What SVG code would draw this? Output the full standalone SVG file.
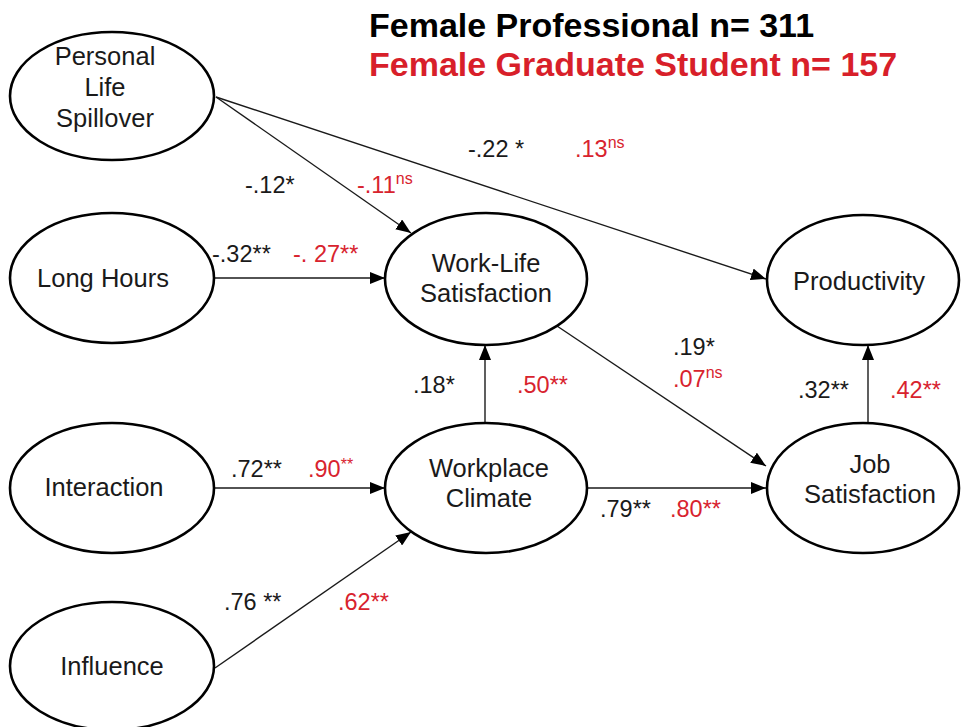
<svg xmlns="http://www.w3.org/2000/svg" width="961" height="727" viewBox="0 0 961 727">
  <style>
    .node ellipse { fill: #ffffff; stroke: #000000; stroke-width: 2.6; }
    .node text { font-family: "Liberation Sans", Arial, sans-serif; font-size: 25.5px; fill: #1a1a1a; text-anchor: middle; }
    .edge { stroke: #1a1a1a; stroke-width: 1.4; fill: none; marker-end: url(#arrow); }
    .coef { font-family: "Liberation Sans", Arial, sans-serif; font-size: 23.5px; fill: #1a1a1a; }
    .coef.red { fill: #d8232e; }
    .sup { font-size: 16px; }
    .title { font-family: "Liberation Sans", Arial, sans-serif; font-size: 34px; font-weight: bold; }
  </style>
  <defs>
    <marker id="arrow" markerUnits="userSpaceOnUse" markerWidth="16" markerHeight="12" refX="15" refY="6" orient="auto">
      <path d="M0,0 L15,6 L0,12 z" fill="#000000"/>
    </marker>
  </defs>
  <rect width="961" height="727" fill="#ffffff"/>

  <!-- titles -->
  <text class="title" x="369" y="37" fill="#000000">Female Professional n= 311</text>
  <text class="title" x="369" y="76" fill="#d81f2a">Female Graduate Student n= 157</text>

  <!-- connectors -->
  <g id="connectors">
    <line class="edge" x1="216" y1="97" x2="411" y2="233"/>
    <line class="edge" x1="216" y1="97" x2="766" y2="279"/>
    <line class="edge" x1="213" y1="278" x2="385" y2="278"/>
    <line class="edge" x1="485" y1="423" x2="485" y2="345"/>
    <line class="edge" x1="557" y1="326" x2="766" y2="466"/>
    <line class="edge" x1="215" y1="488" x2="385" y2="488"/>
    <line class="edge" x1="215" y1="668" x2="411" y2="532"/>
    <line class="edge" x1="588" y1="488" x2="766" y2="488"/>
    <line class="edge" x1="868" y1="423" x2="868" y2="345"/>
  </g>

  <!-- nodes -->
  <g id="personal-life-spillover" class="node">
    <ellipse cx="112" cy="96" rx="102" ry="64"/>
    <text x="105" y="65">Personal</text>
    <text x="105" y="96">Life</text>
    <text x="105" y="127">Spillover</text>
  </g>
  <g id="long-hours" class="node">
    <ellipse cx="112" cy="278" rx="102" ry="65"/>
    <text x="103" y="287">Long Hours</text>
  </g>
  <g id="interaction" class="node">
    <ellipse cx="112" cy="488" rx="102" ry="65"/>
    <text x="104" y="496">Interaction</text>
  </g>
  <g id="influence" class="node">
    <ellipse cx="112" cy="666" rx="102" ry="64"/>
    <text x="112" y="675">Influence</text>
  </g>
  <g id="work-life-satisfaction" class="node">
    <ellipse cx="486" cy="279" rx="101" ry="66"/>
    <text x="486" y="272">Work-Life</text>
    <text x="486" y="302">Satisfaction</text>
  </g>
  <g id="workplace-climate" class="node">
    <ellipse cx="486" cy="488" rx="101" ry="65"/>
    <text x="489" y="477">Workplace</text>
    <text x="489" y="507">Climate</text>
  </g>
  <g id="productivity" class="node">
    <ellipse cx="863" cy="280" rx="96" ry="65"/>
    <text x="859" y="290">Productivity</text>
  </g>
  <g id="job-satisfaction" class="node">
    <ellipse cx="863" cy="488" rx="96" ry="65"/>
    <text x="870" y="473">Job</text>
    <text x="870" y="503">Satisfaction</text>
  </g>

  <!-- path coefficients -->
  <g id="coefficients">
    <text class="coef" x="245" y="193">-.12*</text>
    <text class="coef red" x="357" y="193">-.11<tspan class="sup" dy="-9">ns</tspan></text>
    <text class="coef" x="468" y="157">-.22 *</text>
    <text class="coef red" x="575" y="157">.13<tspan class="sup" dy="-9">ns</tspan></text>
    <text class="coef" x="212" y="262">-.32**</text>
    <text class="coef red" x="293" y="262">-. 27**</text>
    <text class="coef" x="413" y="393">.18*</text>
    <text class="coef red" x="517" y="393">.50**</text>
    <text class="coef" x="673" y="355">.19*</text>
    <text class="coef red" x="673" y="387">.07<tspan class="sup" dy="-9">ns</tspan></text>
    <text class="coef" x="798" y="398">.32**</text>
    <text class="coef red" x="890" y="398">.42**</text>
    <text class="coef" x="231" y="477">.72**</text>
    <text class="coef red" x="308" y="477">.90<tspan class="sup" dy="-7">**</tspan></text>
    <text class="coef" x="600" y="517">.79**</text>
    <text class="coef red" x="670" y="517">.80**</text>
    <text class="coef" x="224" y="610">.76 **</text>
    <text class="coef red" x="338" y="610">.62**</text>
  </g>
</svg>
